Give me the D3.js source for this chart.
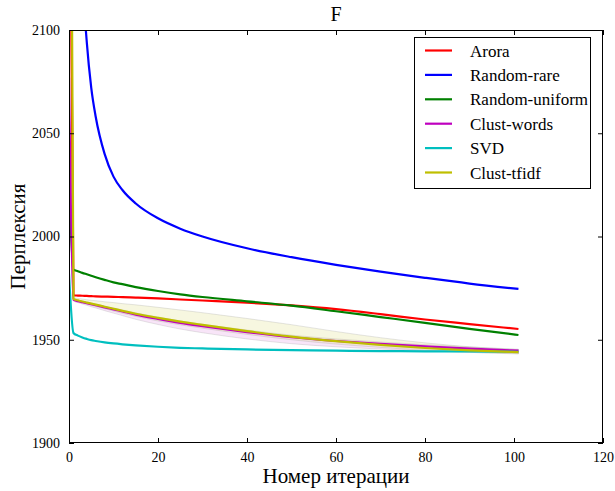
<!DOCTYPE html>
<html>
<head>
<meta charset="utf-8">
<script src="https://cdn.jsdelivr.net/npm/d3@7"></script>
<style>
  html, body { margin: 0; padding: 0; background: #fff; }
  svg { display: block; }
  svg text { font-family: "Liberation Serif", "Times New Roman", Times, serif; }
</style>
</head>
<body>
<svg id="chart" width="615" height="491"></svg>
<script>
// ---------- data ----------
const iterations = [0, 1, 2, 3, 4, 5, 6, 8, 10, 12, 15, 20, 25, 30, 40, 50, 60, 70, 80, 90, 101];

const arora        = [2250, 1971.5, 1971.4, 1971.3, 1971.2, 1971.1, 1971.0, 1970.9, 1970.8, 1970.6, 1970.4, 1970.0, 1969.5, 1969.0, 1968.0, 1966.6, 1964.8, 1962.4, 1959.8, 1957.6, 1955.2];
const randomRare   = [2600, 2400, 2196, 2128, 2094, 2072, 2058, 2040, 2029, 2022.5, 2016, 2008.8, 2003.8, 2000, 1994.3, 1990, 1986.3, 1983, 1980, 1977.2, 1974.6];
const randomUnif   = [2030, 1984.0, 1983.2, 1982.4, 1981.7, 1981.0, 1980.3, 1979.0, 1977.8, 1976.9, 1975.5, 1973.6, 1972.0, 1970.7, 1968.6, 1966.5, 1963.8, 1961.0, 1958.2, 1955.3, 1952.3];
const clustWords   = [2077, 1969.3, 1968.7, 1968.2, 1967.7, 1967.2, 1966.7, 1965.7, 1964.7, 1963.7, 1962.2, 1960.1, 1958.2, 1956.6, 1953.7, 1951.2, 1949.4, 1948.0, 1946.8, 1945.7, 1944.7];
const svd          = [1982, 1953.3, 1952.0, 1951.1, 1950.4, 1949.8, 1949.4, 1948.7, 1948.2, 1947.8, 1947.3, 1946.6, 1946.1, 1945.8, 1945.3, 1945.0, 1944.7, 1944.5, 1944.4, 1944.3, 1944.2];
const clustTfidf   = [2400, 1969.8, 1969.1, 1968.5, 1968.0, 1967.5, 1967.0, 1966.0, 1965.0, 1964.0, 1962.6, 1960.6, 1958.8, 1957.2, 1954.2, 1951.5, 1949.3, 1947.5, 1946.0, 1944.9, 1944.0];

// spread bands
const clustWordsLow  = [2077, 1968.7, 1968.0, 1967.3, 1966.7, 1966.0, 1965.4, 1964.1, 1962.9, 1961.7, 1959.9, 1957.4, 1955.2, 1953.4, 1950.4, 1948.1, 1946.6, 1945.5, 1944.6, 1943.9, 1943.3];
const clustWordsHigh = [2077, 1969.8, 1969.2, 1968.7, 1968.2, 1967.8, 1967.3, 1966.3, 1965.4, 1964.4, 1963.0, 1961.0, 1959.1, 1957.5, 1954.7, 1952.2, 1950.4, 1948.9, 1947.6, 1946.5, 1945.4];
const clustTfidfLow  = [2400, 1969.3, 1968.5, 1967.9, 1967.3, 1966.7, 1966.1, 1965.0, 1963.9, 1962.8, 1961.3, 1959.1, 1957.2, 1955.6, 1952.6, 1950.0, 1947.9, 1946.3, 1944.9, 1943.9, 1943.1];
const clustTfidfHigh = [2400, 1970.4, 1970.0, 1969.7, 1969.4, 1969.1, 1968.9, 1968.4, 1968.0, 1967.5, 1966.9, 1965.7, 1964.4, 1963.1, 1960.3, 1957.3, 1954.0, 1951.0, 1948.5, 1946.6, 1945.2];

const seriesNames  = ["Arora", "Random-rare", "Random-uniform", "Clust-words", "SVD", "Clust-tfidf"];
const seriesValues = [arora, randomRare, randomUnif, clustWords, svd, clustTfidf];
const seriesColors = ["#ff0000", "#0000ff", "#008000", "#bf00bf", "#00bfbf", "#bfbf00"];

const xTicks = [0, 20, 40, 60, 80, 100, 120];
const yTicks = [1900, 1950, 2000, 2050, 2100];

const titleText = "F";
const xLabel = "Номер итерации";
const yLabel = "Перплексия";

// ---------- layout ----------
const FONT = "'Liberation Serif', 'Times New Roman', Times, serif";
const svg = d3.select("#chart");
const margin = { left: 69, right: 603, top: 30, bottom: 443 };

const x = d3.scaleLinear().domain([0, 120]).range([margin.left, margin.right]);
const y = d3.scaleLinear().domain([1900, 2100]).range([margin.bottom, margin.top]);

svg.append("defs").append("clipPath").attr("id", "plotclip")
  .append("rect")
  .attr("x", margin.left).attr("y", margin.top)
  .attr("width", margin.right - margin.left).attr("height", margin.bottom - margin.top);

const plot = svg.append("g").attr("clip-path", "url(#plotclip)");

// bands
const band = (lo, hi) => d3.area()
  .x((d, i) => x(iterations[i]))
  .y0((d, i) => y(lo[i]))
  .y1((d, i) => y(hi[i]))
  .curve(d3.curveMonotoneX)(iterations);

plot.append("path").attr("d", band(clustWordsLow, clustWordsHigh))
  .attr("fill", "#bf00bf").attr("fill-opacity", 0.1)
  .attr("stroke", "#999").attr("stroke-opacity", 0.25).attr("stroke-width", 1);
plot.append("path").attr("d", band(clustTfidfLow, clustTfidfHigh))
  .attr("fill", "#bfbf00").attr("fill-opacity", 0.12)
  .attr("stroke", "#999").attr("stroke-opacity", 0.25).attr("stroke-width", 1);

// lines
const line = d3.line()
  .x((d, i) => x(iterations[i]))
  .y(d => y(d))
  .curve(d3.curveMonotoneX);

seriesValues.forEach((vals, k) => {
  plot.append("path")
    .attr("d", line(vals))
    .attr("fill", "none")
    .attr("stroke", seriesColors[k])
    .attr("stroke-width", 2.2)
    .attr("stroke-linejoin", "round");
});

// frame
svg.append("rect")
  .attr("x", margin.left + 0.5).attr("y", margin.top + 0.5)
  .attr("width", margin.right - margin.left - 1).attr("height", margin.bottom - margin.top - 1)
  .attr("fill", "none").attr("stroke", "#000").attr("stroke-width", 1);

// axes with inward ticks
const tickLen = 5;
const bottomAxis = d3.axisBottom(x).tickValues(xTicks).tickSize(-tickLen).tickPadding(tickLen + 4).tickFormat(d3.format("d"));
const topAxis = d3.axisTop(x).tickValues(xTicks).tickSize(-tickLen).tickFormat("");
const leftAxis = d3.axisLeft(y).tickValues(yTicks).tickSize(-tickLen).tickPadding(tickLen + 4).tickFormat(d3.format("d"));
const rightAxis = d3.axisRight(y).tickValues(yTicks).tickSize(-tickLen).tickFormat("");

function styleAxis(g) {
  g.attr("font-family", FONT).attr("font-size", 14);
  g.select(".domain").remove();
  g.selectAll(".tick line").attr("stroke", "#000");
  g.selectAll(".tick text").attr("fill", "#000").attr("font-family", FONT).attr("font-size", 14);
}
svg.append("g").attr("transform", `translate(0,${margin.bottom})`).call(bottomAxis).call(styleAxis);
svg.append("g").attr("transform", `translate(0,${margin.top})`).call(topAxis).call(styleAxis);
svg.append("g").attr("transform", `translate(${margin.left},0)`).call(leftAxis).call(styleAxis);
svg.append("g").attr("transform", `translate(${margin.right},0)`).call(rightAxis).call(styleAxis);

// title & labels
svg.append("text").attr("x", (margin.left + margin.right) / 2).attr("y", 21)
  .attr("text-anchor", "middle").attr("font-family", FONT).attr("font-size", 20).text(titleText);
svg.append("text").attr("x", (margin.left + margin.right) / 2).attr("y", 483)
  .attr("text-anchor", "middle").attr("font-family", FONT).attr("font-size", 21).text(xLabel);
svg.append("text").attr("transform", `translate(25,${(margin.top + margin.bottom) / 2}) rotate(-90)`)
  .attr("text-anchor", "middle").attr("font-family", FONT).attr("font-size", 21).text(yLabel);

// legend
const lg = svg.append("g");
lg.append("rect").attr("x", 414.5).attr("y", 37.5).attr("width", 176).attr("height", 151)
  .attr("fill", "#fff").attr("stroke", "#000").attr("stroke-width", 1);
seriesNames.forEach((name, k) => {
  const cy = 50.5 + k * 24.4;
  lg.append("line").attr("x1", 425).attr("x2", 452).attr("y1", cy).attr("y2", cy)
    .attr("stroke", seriesColors[k]).attr("stroke-width", 2.2);
  lg.append("text").attr("x", 470).attr("y", cy + 6)
    .attr("font-family", FONT).attr("font-size", 17).text(name);
});
</script>
</body>
</html>
